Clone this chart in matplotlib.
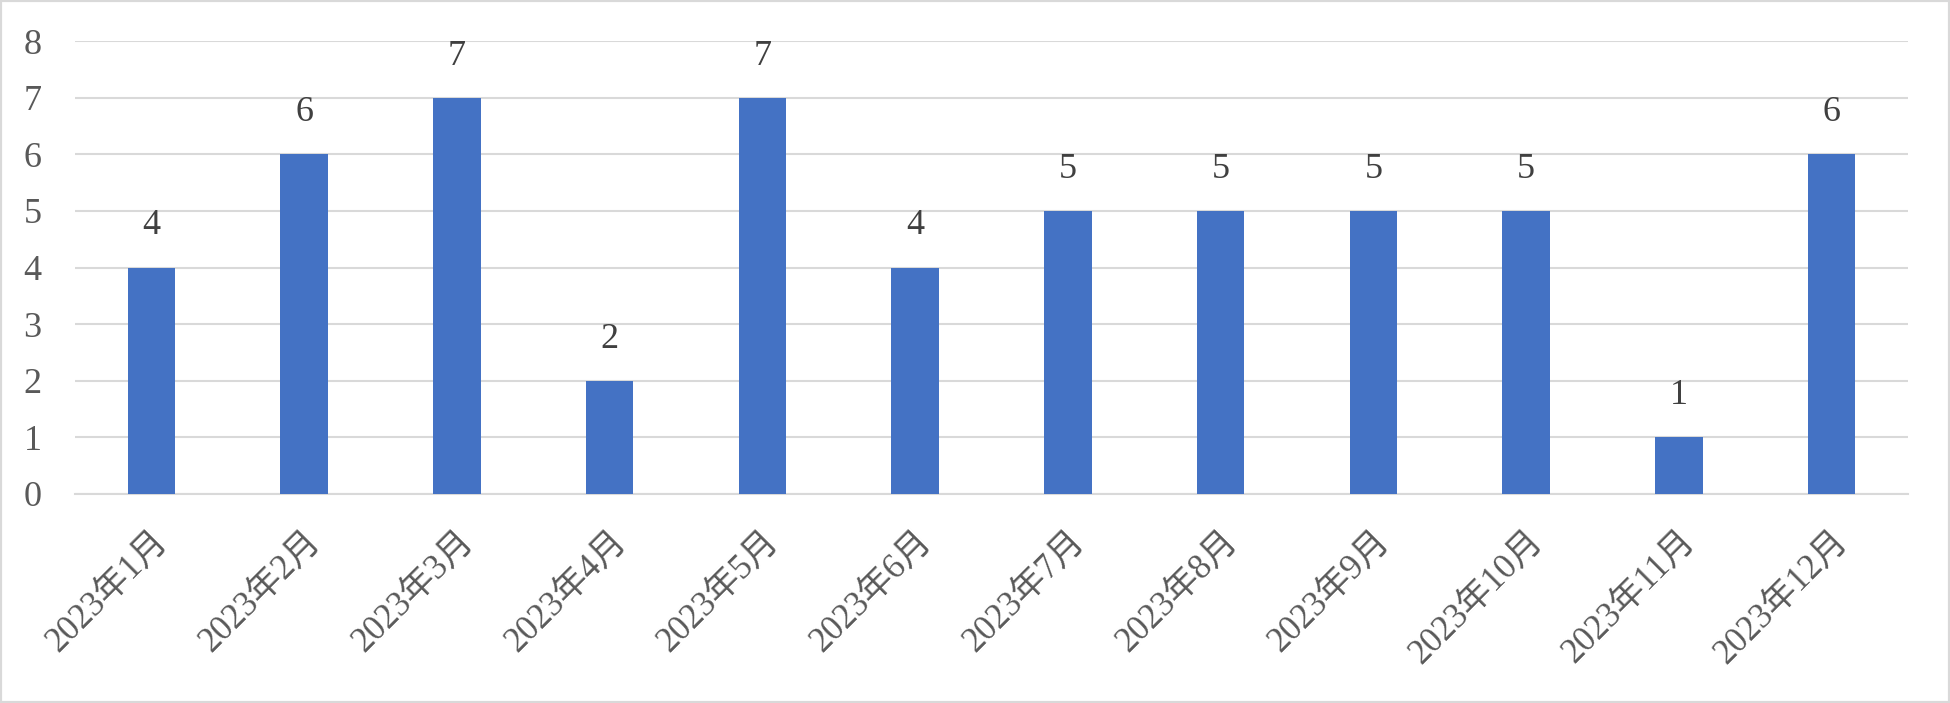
import matplotlib
matplotlib.use("Agg")
import matplotlib.pyplot as plt
from matplotlib.patches import Rectangle

categories = ["2023年1月", "2023年2月", "2023年3月", "2023年4月", "2023年5月", "2023年6月",
              "2023年7月", "2023年8月", "2023年9月", "2023年10月", "2023年11月", "2023年12月"]
values = [4, 6, 7, 2, 7, 4, 5, 5, 5, 5, 1, 6]
yticks = [0, 1, 2, 3, 4, 5, 6, 7, 8]

plt.rcParams['font.family'] = ['Liberation Serif', 'Noto Sans CJK JP']
text_color = "#595959"
grid_color = "#d9d9d9"
bar_color = "#4472C4"

fig = plt.figure(figsize=(19.5, 7.03), dpi=100)
ax = fig.add_axes([75/1950, 1 - 494/703, (1908 - 75)/1950, (494 - 41)/703])

x = list(range(len(categories)))
ax.bar(x, values, width=0.31, color=bar_color, zorder=3)
ax.set_xlim(-0.5, len(categories) - 0.5)
ax.set_ylim(0, 8)
ax.set_yticks(yticks)
ax.set_yticklabels([str(t) for t in yticks], fontsize=26, color=text_color)
ax.set_xticks(x)
ax.set_xticklabels(categories, rotation=45, ha="right", rotation_mode="anchor",
                   fontsize=25, color=text_color)
ax.tick_params(axis="both", length=0)
ax.tick_params(axis="y", pad=24)
ax.tick_params(axis="x", pad=22)
ax.grid(axis="y", color=grid_color, linewidth=1.5, zorder=0)
for s in ["top", "right", "left"]:
    ax.spines[s].set_visible(False)
ax.spines["bottom"].set_color(grid_color)
ax.spines["bottom"].set_linewidth(1.5)

for xi, v in zip(x, values):
    ax.annotate(str(v), (xi, v), xytext=(0, 25), textcoords="offset pixels",
                ha="center", va="bottom", fontsize=26, color="#404040")

fig.patches.append(Rectangle((0, 0), 1, 1, transform=fig.transFigure, fill=False,
                             edgecolor=grid_color, linewidth=3))
fig.savefig("out.png", dpi=100)
